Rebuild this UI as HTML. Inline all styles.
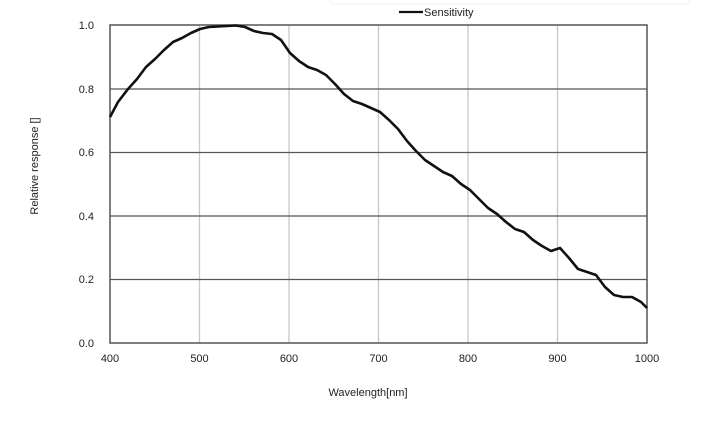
<!DOCTYPE html>
<html><head><style>body{margin:0;background:#fff}svg{display:block}text{font-family:"Liberation Sans",sans-serif;fill:#222}</style></head>
<body>
<svg width="727" height="425" viewBox="0 0 727 425">
<rect x="330" y="-6" width="360" height="10" rx="4" fill="#fff" stroke="#f0f0f0"/>
<g stroke="#c8c8c8" stroke-width="1.3">
<line x1="199.5" y1="25" x2="199.5" y2="343"/><line x1="289" y1="25" x2="289" y2="343"/><line x1="378.5" y1="25" x2="378.5" y2="343"/><line x1="468" y1="25" x2="468" y2="343"/><line x1="557.5" y1="25" x2="557.5" y2="343"/>
</g>
<g stroke="#555" stroke-width="1.2">
<line x1="110" y1="89" x2="647" y2="89"/><line x1="110" y1="152.5" x2="647" y2="152.5"/><line x1="110" y1="216" x2="647" y2="216"/><line x1="110" y1="279.5" x2="647" y2="279.5"/>
</g>
<rect x="110" y="25" width="537" height="318" fill="none" stroke="#555" stroke-width="1.5"/>
<polyline fill="none" stroke="#111" stroke-width="2.6" stroke-linejoin="round" points="110,117 118,102 128,89 137,79 146,67 155,59 164,50 173,42 182,38 191,33 200,29 209,27 218,26.5 227,26 236,25.5 245,27 254,31 263,33 272,34 281,40 290,53 299,61 308,67 317,70 326,75 335,84 344,94 353,101 362,104 371,108 380,112 389,120 398,129 407,141 416,151 425,160 434,166 443,172 452,176 461,184 470,190 479,199 488,208 497,214 506,222 515,229 524,232 533,240 542,246 551,251 560,248 569,258 578,269 587,272 596,275 605,287 614,295 623,297 632,297 641,302 647,308"/>
<line x1="399" y1="12" x2="423" y2="12" stroke="#111" stroke-width="2.2"/>
<text x="424" y="16" font-size="11">Sensitivity</text>
<g font-size="11" text-anchor="end">
<text x="94" y="29">1.0</text><text x="94" y="93">0.8</text><text x="94" y="156">0.6</text><text x="94" y="220">0.4</text><text x="94" y="283">0.2</text><text x="94" y="347">0.0</text>
</g>
<g font-size="11" text-anchor="middle">
<text x="110" y="362">400</text><text x="199.5" y="362">500</text><text x="289" y="362">600</text><text x="378.5" y="362">700</text><text x="468" y="362">800</text><text x="557.5" y="362">900</text><text x="647" y="362">1000</text>
</g>
<text x="368" y="396" font-size="11" text-anchor="middle">Wavelength[nm]</text>
<text transform="translate(38,166) rotate(-90)" font-size="11" text-anchor="middle">Relative response []</text>
</svg>
</body></html>
